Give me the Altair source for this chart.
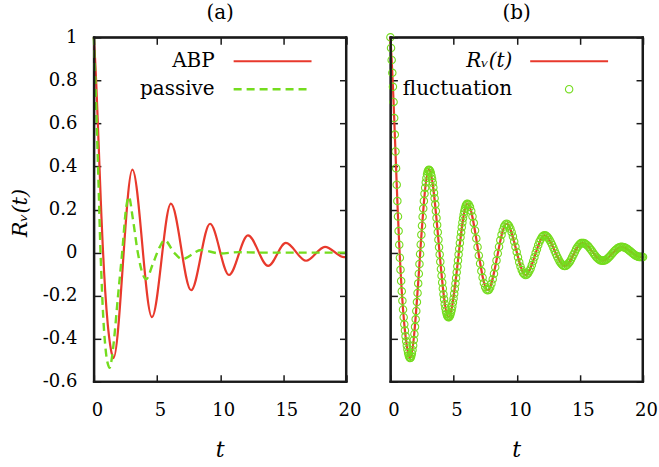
import altair as alt
import pandas as pd

# ---------------- data ----------------
x_ticks = [0, 5, 10, 15, 20]
y_ticks = [-0.6, -0.4, -0.2, 0, 0.2, 0.4, 0.6, 0.8, 1]

panel_titles = ["(a)", "(b)"]
legend_a = ["ABP", "passive"]
legend_b = ["R\u1d65(t)", "fluctuation"]
x_title = "t"
y_title = "R\u1d65(t)"

# ABP velocity autocorrelation (red, panel a and panel b)
abp_t = [0, 0.1, 0.2, 0.3, 0.4, 0.5, 0.6, 0.7, 0.8, 0.9, 1.0, 1.1, 1.2, 1.3, 1.4,
         1.55, 3.05, 4.6, 6.1, 7.7, 9.2, 10.7, 12.2, 13.8, 15.2, 16.8, 18.3, 19.8, 20.0]
abp_v = [1.0, 0.895, 0.77, 0.625, 0.47, 0.315, 0.168, 0.036, -0.08, -0.18, -0.264,
         -0.333, -0.388, -0.432, -0.465,
         -0.49, 0.385, -0.30, 0.227, -0.175, 0.134, -0.104, 0.08, -0.062, 0.045,
         -0.038, 0.027, -0.021, -0.02]

# passive (green dashed, panel a)
passive_t = [0, 0.1, 0.2, 0.3, 0.4, 0.5, 0.6, 0.7, 0.8, 0.9, 1.0, 1.1,
             1.25, 1.4, 1.56, 1.9, 2.24, 2.56, 2.77, 3.08, 3.48, 3.87, 4.14, 4.66,
             5.19, 5.6, 6.35, 7.0, 8.5, 10.0, 11.5, 13.0, 20.0]
passive_v = [1.0, 0.83, 0.65, 0.46, 0.26, 0.05, -0.11, -0.25, -0.355, -0.43, -0.485, -0.515,
             -0.535, -0.5, -0.425, -0.21, 0.0, 0.21, 0.26, 0.16, 0.0, -0.1, -0.124, -0.054,
             0.023, 0.058, 0.0, -0.03, 0.012, -0.004, 0.002, 0.0, 0.0]

# fluctuation samples (green circles, panel b): dt = 0.05 up to t = 6.1, then dt = 0.1
fluct_v_fine = [
    1.000, 0.950, 0.895, 0.835, 0.770, 0.700, 0.625, 0.548, 0.470, 0.392, 0.315, 0.240,
    0.168, 0.100, 0.036, -0.024, -0.080, -0.132, -0.180, -0.224, -0.264, -0.300, -0.333,
    -0.362, -0.388, -0.412, -0.432, -0.450, -0.465, -0.477, -0.485, -0.490,
    -0.488, -0.480, -0.469, -0.452, -0.431, -0.406, -0.378, -0.345, -0.310, -0.271, -0.230,
    -0.188, -0.143, -0.098, -0.053, -0.007, 0.038, 0.083, 0.125, 0.166, 0.205, 0.240, 0.273,
    0.301, 0.326, 0.347, 0.364, 0.375, 0.383, 0.385,
    0.383, 0.378, 0.369, 0.357, 0.342, 0.324, 0.302, 0.278, 0.252, 0.224, 0.193, 0.161,
    0.128, 0.094, 0.060, 0.025, -0.009, -0.043, -0.076, -0.108, -0.139, -0.167, -0.193,
    -0.217, -0.239, -0.257, -0.272, -0.284, -0.293, -0.298, -0.300,
    -0.299, -0.294, -0.287, -0.277, -0.265, -0.250, -0.232, -0.213, -0.191, -0.168, -0.144,
    -0.118, -0.091, -0.064, -0.037, -0.009, 0.018, 0.045, 0.071, 0.095, 0.118, 0.140, 0.159,
    0.177, 0.192, 0.204, 0.214, 0.221, 0.226, 0.227,
]
fluct_v_coarse = [
    0.223, 0.212, 0.193, 0.168, 0.138, 0.103, 0.065, 0.026, -0.013, -0.051, -0.086, -0.116,
    -0.141, -0.160, -0.171, -0.175,
    -0.172, -0.162, -0.145, -0.124, -0.098, -0.068, -0.037, -0.004, 0.027, 0.057, 0.083,
    0.104, 0.121, 0.131, 0.134,
    0.131, 0.124, 0.111, 0.095, 0.075, 0.052, 0.027, 0.003, -0.022, -0.045, -0.065, -0.081,
    -0.094, -0.101, -0.104,
    -0.102, -0.096, -0.086, -0.074, -0.058, -0.040, -0.022, -0.002, 0.016, 0.034, 0.050,
    0.062, 0.072, 0.078, 0.080,
    0.079, 0.075, 0.068, 0.059, 0.048, 0.036, 0.023, 0.009, -0.005, -0.018, -0.030, -0.041,
    -0.050, -0.057, -0.061, -0.062,
    -0.061, -0.057, -0.050, -0.042, -0.032, -0.020, -0.009, 0.003, 0.015, 0.025, 0.033,
    0.040, 0.044, 0.045,
    0.044, 0.042, 0.038, 0.033, 0.027, 0.019, 0.012, 0.004, -0.005, -0.012, -0.020, -0.026,
    -0.031, -0.035, -0.037, -0.038,
    -0.037, -0.035, -0.032, -0.027, -0.022, -0.016, -0.009, -0.002, 0.005, 0.011, 0.016,
    0.021, 0.024, 0.026, 0.027,
    0.026, 0.025, 0.022, 0.019, 0.015, 0.010, 0.006, 0.000, -0.004, -0.009, -0.013, -0.016,
    -0.019, -0.020, -0.021,
    -0.021, -0.020,
]
fluct_t = [round(0.05 * i, 2) for i in range(len(fluct_v_fine))] + \
          [round(6.2 + 0.1 * i, 1) for i in range(len(fluct_v_coarse))]
fluct_v = fluct_v_fine + fluct_v_coarse

# ---------------- styling ----------------
RED = "#e8392c"
GREEN = "#74dc1e"
FRAME = "#1a1a1a"
FONT = "DejaVu Serif"
W, H = 253, 345
TICK = 7
CIRCLE = 55

abp_df = pd.DataFrame({"t": abp_t, "v": abp_v})
passive_df = pd.DataFrame({"t": passive_t, "v": passive_v})
fluct_df = pd.DataFrame({"t": fluct_t, "v": fluct_v})

xs = alt.Scale(domain=[0, 20], nice=False, zero=False)
ys = alt.Scale(domain=[-0.6, 1], nice=False, zero=False)

common_tick = dict(title=None, ticks=True, tickSize=TICK, tickColor=FRAME, tickWidth=1.5,
                   domain=False, grid=False, offset=-TICK)

x_axis_bottom = alt.Axis(orient="bottom", values=x_ticks, labelFont=FONT, labelFontSize=18,
                         labelColor="black", labelPadding=20, labelOffset=3,
                         labelFlush=False, labelOverlap=False, labelAngle=0, **common_tick)
x_axis_top = alt.Axis(orient="top", values=x_ticks, labels=False, **common_tick)
y_axis_left_a = alt.Axis(orient="left", values=y_ticks, labelFont=FONT, labelFontSize=18,
                         labelColor="black", labelPadding=17, labelFlush=False,
                         labelOverlap=False,
                         labelExpr="replace(format(datum.value, '~g'), '\u2212', '-')",
                         **common_tick)
y_axis_left_b = alt.Axis(orient="left", values=y_ticks, labels=False, **common_tick)
y_axis_right = alt.Axis(orient="right", values=y_ticks, labels=False, **common_tick)


def one(label):
    return pd.DataFrame({"label": [label]})


def text_layer(label, x, y, align="center", size=20, italic=False, angle=0):
    kw = dict(align=align, baseline="middle", font=FONT, fontSize=size, color="black")
    if italic:
        kw["fontStyle"] = "italic"
    if angle:
        kw["angle"] = angle
    return alt.Chart(one(label)).mark_text(**kw).encode(
        text="label:N", x=alt.value(x), y=alt.value(y))


def mirror_axes_layer():
    # invisible layer that only carries the top and right (tick-only) axes
    return alt.Chart(abp_df).mark_line(opacity=0).encode(
        x=alt.X("t:Q", scale=xs, axis=x_axis_top),
        y=alt.Y("v:Q", scale=ys, axis=y_axis_right))


def frame_layers():
    # box around the plot area, drawn last so nothing covers it
    sw = 2
    return [
        alt.Chart(one("top")).mark_rule(color=FRAME, strokeWidth=sw).encode(
            x=alt.value(-1), x2=alt.value(W + 1), y=alt.value(0.5)),
        alt.Chart(one("bottom")).mark_rule(color=FRAME, strokeWidth=sw).encode(
            x=alt.value(-1), x2=alt.value(W + 1), y=alt.value(H)),
        alt.Chart(one("left")).mark_rule(color=FRAME, strokeWidth=sw).encode(
            x=alt.value(0.5), y=alt.value(-1), y2=alt.value(H + 1)),
        alt.Chart(one("right")).mark_rule(color=FRAME, strokeWidth=sw).encode(
            x=alt.value(W - 0.5), y=alt.value(-1), y2=alt.value(H + 1)),
    ]


# ---------------- panel (a) ----------------
line_abp_a = alt.Chart(abp_df).mark_line(
    color=RED, strokeWidth=2.2, interpolate="monotone").encode(
    x=alt.X("t:Q", scale=xs, axis=x_axis_bottom),
    y=alt.Y("v:Q", scale=ys, axis=y_axis_left_a))
line_passive = alt.Chart(passive_df).mark_line(
    color=GREEN, strokeWidth=2.4, strokeDash=[8, 5], interpolate="monotone").encode(
    x=alt.X("t:Q", scale=xs, axis=None), y=alt.Y("v:Q", scale=ys, axis=None))

leg_a = [
    text_layer(legend_a[0], 121, 24, align="right"),
    alt.Chart(one(legend_a[0])).mark_rule(color=RED, strokeWidth=2.2).encode(
        x=alt.value(140), x2=alt.value(218), y=alt.value(24)),
    text_layer(legend_a[1], 121, 52, align="right"),
    alt.Chart(one(legend_a[1])).mark_rule(color=GREEN, strokeWidth=2.4,
                                          strokeDash=[8, 5]).encode(
        x=alt.value(140), x2=alt.value(218), y=alt.value(52)),
]

anchor = alt.Chart(one("")).mark_rule(color="white", strokeWidth=1).encode(
    x=alt.value(-92.5), y=alt.value(-35.5), y2=alt.value(-34.5))

panel_a = alt.layer(
    anchor, line_abp_a, line_passive, mirror_axes_layer(), *leg_a,
    text_layer(panel_titles[0], W / 2, -24),
    text_layer(x_title, W / 2, 413, size=22, italic=True),
    text_layer(y_title, -73, 176, size=21, italic=True, angle=270),
    *frame_layers(),
).resolve_axis(x="independent", y="independent").properties(width=W, height=H)

# ---------------- panel (b) ----------------
line_abp_b = alt.Chart(abp_df).mark_line(
    color=RED, strokeWidth=2.2, interpolate="monotone").encode(
    x=alt.X("t:Q", scale=xs, axis=x_axis_bottom),
    y=alt.Y("v:Q", scale=ys, axis=y_axis_left_b))
circles = alt.Chart(fluct_df).mark_point(
    shape="circle", filled=False, size=CIRCLE, strokeWidth=1.1, color=GREEN,
    opacity=1).encode(
    x=alt.X("t:Q", scale=xs, axis=None), y=alt.Y("v:Q", scale=ys, axis=None))

leg_b = [
    text_layer(legend_b[0], 122, 24, align="right", italic=True),
    alt.Chart(one(legend_b[0])).mark_rule(color=RED, strokeWidth=2.2).encode(
        x=alt.value(140), x2=alt.value(218), y=alt.value(24)),
    text_layer(legend_b[1], 122, 52, align="right"),
    alt.Chart(one(legend_b[1])).mark_point(
        shape="circle", filled=False, size=CIRCLE, strokeWidth=1.1, color=GREEN,
        opacity=1).encode(x=alt.value(179), y=alt.value(52)),
]

panel_b = alt.layer(
    line_abp_b, circles, mirror_axes_layer(), *leg_b,
    text_layer(panel_titles[1], W / 2, -24),
    text_layer(x_title, W / 2, 413, size=22, italic=True),
    *frame_layers(),
).resolve_axis(x="independent", y="independent").properties(width=W, height=H)

chart = alt.hconcat(panel_a, panel_b, spacing=44, bounds="flush").properties(
    padding={"left": 0, "top": 0, "right": 0, "bottom": 0},
    background="white",
).configure_view(stroke=FRAME, strokeWidth=2)

chart.save("out.html", embed_options={"renderer": "svg", "actions": False})
